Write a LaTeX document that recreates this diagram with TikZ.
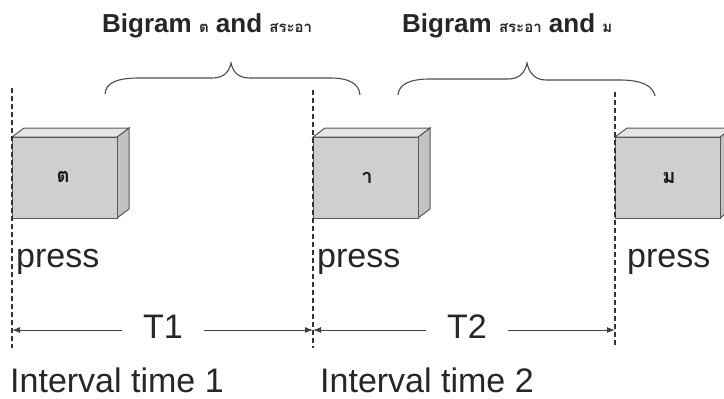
\documentclass[tikz,border=0pt]{standalone}
\usepackage{fontspec}
\setmainfont{Liberation Sans}
\newfontfamily\thaifont[Script=Thai]{Loma}
\usetikzlibrary{arrows.meta}

\tikzset{
  keycap/.pic={
    % right side face, top face, then the front face
    \path[sideface] (105,0) -- (117,-9) -- (117,72) -- (105,81) -- cycle;
    \path[topface] (0,0) -- (12,-9) -- (117,-9) -- (105,0) -- cycle;
    \path[frontface] (0,0) rectangle (105,81);
  }
}

\begin{document}
\begin{tikzpicture}[x=1pt,y=-1pt,
  guide/.style={draw=black!80, line width=1.1pt, dash pattern=on 5pt off 3pt},
  span/.style={draw=black!75, line width=1pt, -{Latex[length=8pt,width=6pt]}},
  brace/.style={draw=black!70, line width=1.1pt},
  frontface/.style={fill=gray!38, draw=black!65, line width=1pt},
  topface/.style={fill=gray!20, draw=black!65, line width=1pt},
  sideface/.style={fill=gray!48, draw=black!65, line width=1pt},
  keylabel/.style={font=\thaifont\fontsize{20}{22}\selectfont\bfseries, text=black!90, inner sep=0pt},
  big/.style={font=\fontsize{34}{40}\selectfont, text=black!85, inner sep=0pt},
  timelabel/.style={font=\fontsize{34}{40}\selectfont, text=black!85, inner ysep=0pt, inner xsep=21pt},
  title/.style={font=\fontsize{26}{30}\selectfont\bfseries, text=black!85, inner sep=0pt}
]
\clip (0,0) rectangle (724,399);
\fill[white] (0,0) rectangle (724,399);

% key boxes
\pic at (12,137) {keycap};
\pic at (313,137) {keycap};
\pic at (615,137) {keycap};
\node[keylabel] (k1) at (63,177) {ต};
\node[keylabel] (k2) at (367,178) {า};
\node[keylabel] (k3) at (669,178) {ม};

% press instants
\coordinate (p1t) at (12,88);   \coordinate (p1b) at (12,348);
\coordinate (p2t) at (313,90);  \coordinate (p2b) at (313,348);
\coordinate (p3t) at (615,92);  \coordinate (p3b) at (615,348);
\draw[guide] (p1t) -- (p1b);
\draw[guide] (p2t) -- (p2b);
\draw[guide] (p3t) -- (p3b);

\node[big, anchor=base west] (pr1) at (16,267) {press};
\node[big, anchor=base west] (pr2) at (317,267) {press};
\node[big, anchor=base west] (pr3) at (627,267) {press};

% interval spans
\coordinate (m1) at (12,330);
\coordinate (m2) at (313,330);
\coordinate (m3) at (615,330);
\node[timelabel, anchor=base] (T1) at (163,338) {T1};
\node[timelabel, anchor=base] (T2) at (467,338) {T2};
\draw[span] (T1.west |- m1) -- (m1);
\draw[span] (T1.east |- m1) -- (m2);
\draw[span] (T2.west |- m2) -- (m2);
\draw[span] (T2.east |- m2) -- (m3);

\node[big, anchor=base west] (iv1) at (10,392) {Interval time 1};
\node[big, anchor=base west] (iv2) at (320,392) {Interval time 2};

% bigram braces
\draw[brace] (105,94) .. controls (106,82) and (118,78) .. (140,78)
  -- (212,78) .. controls (224,78) and (229,72) .. (231,63)
  .. controls (233,72) and (238,78) .. (250,78)
  -- (330,78) .. controls (350,78) and (359,84) .. (360,95);
\draw[brace] (398,95) .. controls (399,84) and (410,79) .. (430,79)
  -- (508,79) .. controls (520,79) and (525,72) .. (527,63)
  .. controls (529,72) and (534,80) .. (546,80)
  -- (620,80) .. controls (642,80) and (653,86) .. (655,96);

\node[title, anchor=base west] (b1) at (102,32)
  {Bigram {\thaifont\fontsize{15}{17}\selectfont ต} and {\thaifont\fontsize{15}{17}\selectfont สระอา}};
\node[title, anchor=base west] (b2) at (402,32)
  {Bigram {\thaifont\fontsize{15}{17}\selectfont สระอา} and {\thaifont\fontsize{15}{17}\selectfont ม}};
\end{tikzpicture}
\end{document}
